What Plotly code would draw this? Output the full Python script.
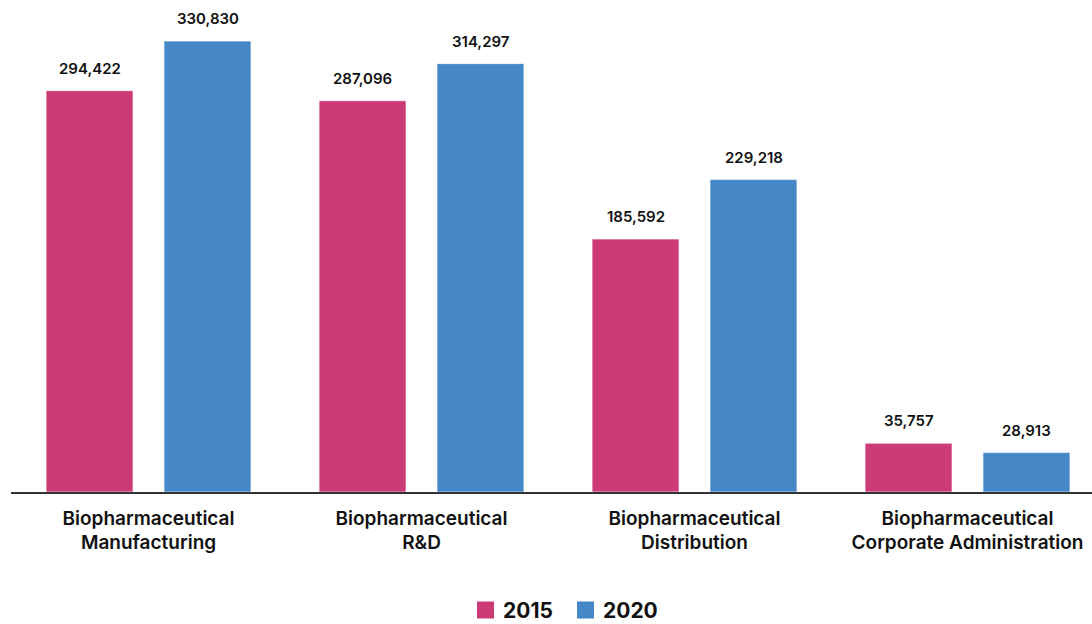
import plotly.graph_objects as go

categories = ["Biopharmaceutical<br>Manufacturing", "Biopharmaceutical<br>R&D",
              "Biopharmaceutical<br>Distribution", "Biopharmaceutical<br>Corporate Administration"]
years = ["2015", "2020"]
values_2015 = [294422, 287096, 185592, 35757]
values_2020 = [330830, 314297, 229218, 28913]
colors = ["#CC3B76", "#4687C7"]

FONT = "Inter"
fig = go.Figure()
for name, vals, col in zip(years, [values_2015, values_2020], colors):
    fig.add_trace(go.Bar(
        x=list(range(len(categories))), y=vals, name=name, showlegend=False,
        marker=dict(color=col, line=dict(color="rgba(255,255,255,0.6)", width=1)),
    ))

# value labels above bars
slot_px = 118
for i, vals in enumerate([values_2015, values_2020]):
    shift = (-0.5 if i == 0 else 0.5) * slot_px
    for xi, v in enumerate(vals):
        fig.add_annotation(x=xi, y=v, text=f"{v:,}", showarrow=False,
                           xshift=shift, yshift=11, yanchor="bottom",
                           font=dict(family=FONT, size=15, color="#111", weight=600))

# custom legend (swatch + label) below the chart
PLOT_L, PLOT_W, PLOT_H = 11, 1081, 492
def px_x(p):
    return (p - PLOT_L) / PLOT_W
def px_y(p):
    return (PLOT_H - p) / PLOT_H

legend_left = [477, 577]
LEG_CY = 610
for name, col, left in zip(years, colors, legend_left):
    fig.add_shape(type="rect", xref="paper", yref="paper",
                  x0=px_x(left), x1=px_x(left + 17), y0=px_y(LEG_CY + 8.5), y1=px_y(LEG_CY - 8.5),
                  fillcolor=col, line=dict(width=0))
    fig.add_annotation(xref="paper", yref="paper", x=px_x(left + 24), y=px_y(LEG_CY),
                       xanchor="left", yanchor="middle", showarrow=False, text=name,
                       font=dict(family=FONT, size=21, color="#111", weight=700))

fig.update_layout(
    width=1092, height=624,
    margin=dict(l=PLOT_L, r=0, t=0, b=624 - PLOT_H, autoexpand=False),
    paper_bgcolor="white", plot_bgcolor="white",
    barmode="group", bargap=0.136, bargroupgap=0.263,
    font=dict(family=FONT, color="#111"),
    showlegend=False,
    xaxis=dict(tickmode="array", tickvals=list(range(len(categories))), ticktext=categories,
               range=[-0.5037, 3.456], showline=True, linecolor="#333", linewidth=1.5,
               showgrid=False, zeroline=False, ticks="", ticklabelstandoff=8,
               tickfont=dict(family=FONT, size=19, color="#111", weight=600)),
    yaxis=dict(range=[0, 361000], visible=False, showgrid=False, zeroline=False),
)

fig.write_html("out.html")
